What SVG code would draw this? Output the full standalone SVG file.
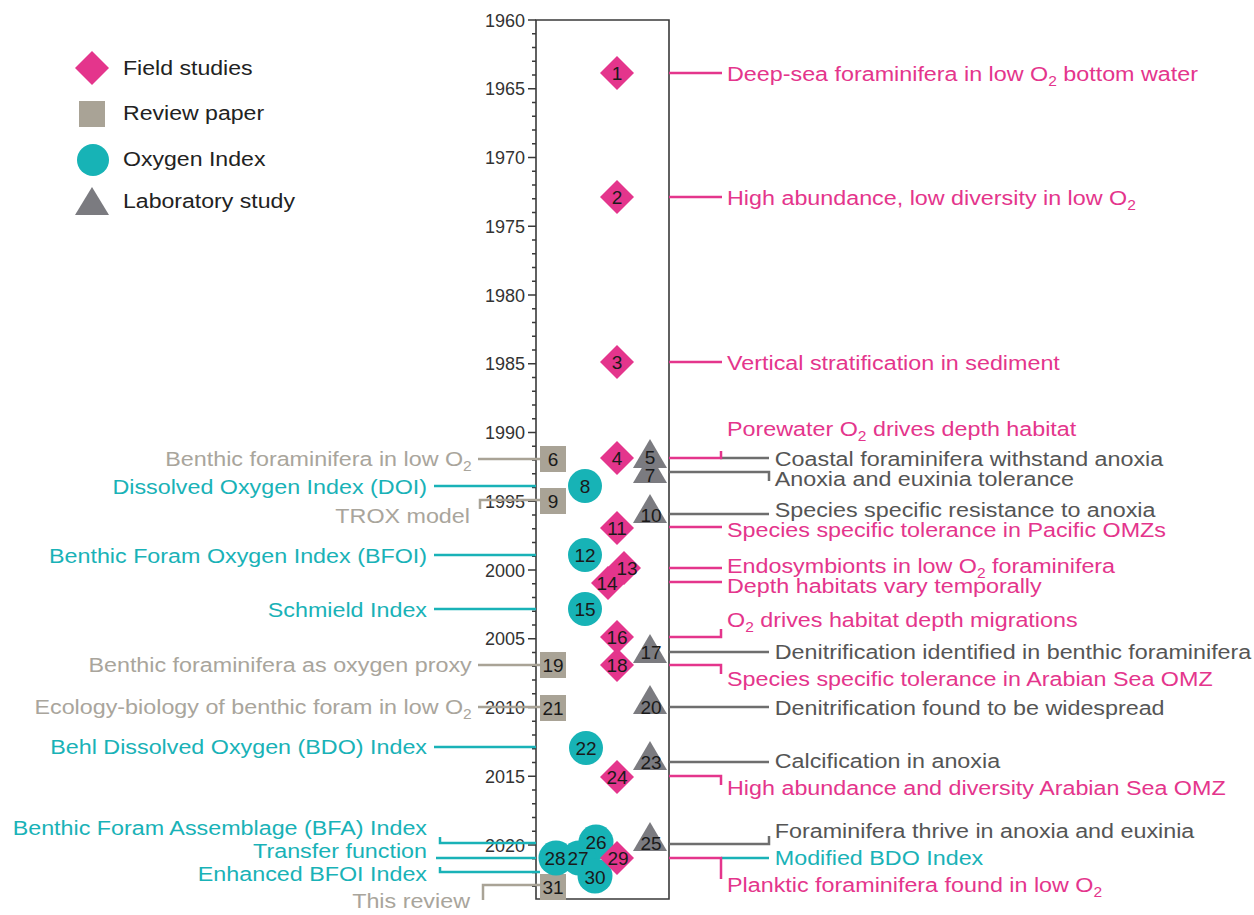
<svg xmlns="http://www.w3.org/2000/svg" width="1254" height="915" viewBox="0 0 1254 915">
<style>
text{font-family:"Liberation Sans",Arial,sans-serif}
.yr{font-size:18px;fill:#333;text-anchor:end}
.lab{font-size:21px}
.sub{font-size:14px}
.pk{fill:#E4358C}
.gy{fill:#555}
.tl{fill:#19B2B7}
.bg{fill:#A9A59C}
.num{font-size:19px;fill:#1a1a1a;text-anchor:middle}
.lg{font-size:21px;fill:#222}
.dia{fill:#E4358C}
.sq{fill:#A9A396}
.ci{fill:#17B3B6}
.tri{fill:#7B7B80}
.c-pk{stroke:#E4358C;stroke-width:2.5;fill:none}
.c-gy{stroke:#6e6e6e;stroke-width:2.5;fill:none}
.c-tl{stroke:#19B2B7;stroke-width:2.5;fill:none}
.c-bg{stroke:#A9A396;stroke-width:2.5;fill:none}
.ax{stroke:#3a3a3a;stroke-width:1.6;fill:none}
</style>
<defs>
<path id="d" d="M0,-17 L17,0 L0,17 L-17,0 Z"/>
<path id="t" d="M0,-16 L17,13 L-17,13 Z"/>
<rect id="s" x="-13" y="-13" width="26" height="26"/>
</defs>
<rect width="1254" height="915" fill="#fff"/>

<g id="legend">
<use href="#d" x="92" y="68" class="dia"/>
<use href="#s" x="92" y="114" class="sq"/>
<circle cx="93" cy="160" r="16" class="ci"/>
<path d="M92,187 L109,215 L75,215 Z" class="tri"/>
<g transform="scale(1.1,1)">
<text class="lg" x="111.8" y="75">Field studies</text>
<text class="lg" x="111.8" y="120">Review paper</text>
<text class="lg" x="111.8" y="166">Oxygen Index</text>
<text class="lg" x="111.8" y="208">Laboratory study</text>
</g>
</g>

<g id="axis">
<path class="ax" d="M669,20 H536 V899 H669 Z"/>
<path class="ax" d="M528,20H536M532,33.75H536M532,47.5H536M532,61.25H536M532,75H536M528,88.75H536M532,102.5H536M532,116.25H536M532,130H536M532,143.75H536M528,157.5H536M532,171.25H536M532,185H536M532,198.75H536M532,212.5H536M528,226.25H536M532,240H536M532,253.75H536M532,267.5H536M532,281.25H536M528,295H536M532,308.75H536M532,322.5H536M532,336.25H536M532,350H536M528,363.75H536M532,377.5H536M532,391.25H536M532,405H536M532,418.75H536M528,432.5H536M532,446.25H536M532,460H536M532,473.75H536M532,487.5H536M528,501.25H536M532,515H536M532,528.75H536M532,542.5H536M532,556.25H536M528,570H536M532,583.75H536M532,597.5H536M532,611.25H536M532,625H536M528,638.75H536M532,652.5H536M532,666.25H536M532,680H536M532,693.75H536M528,707.5H536M532,721.25H536M532,735H536M532,748.75H536M532,762.5H536M528,776.25H536M532,790H536M532,803.75H536M532,817.5H536M532,831.25H536M528,845H536M532,858.75H536M532,872.5H536M532,886.25H536"/>
<text class="yr" x="525" y="26.5">1960</text>
<text class="yr" x="525" y="95.25">1965</text>
<text class="yr" x="525" y="164">1970</text>
<text class="yr" x="525" y="232.75">1975</text>
<text class="yr" x="525" y="301.5">1980</text>
<text class="yr" x="525" y="370.25">1985</text>
<text class="yr" x="525" y="439">1990</text>
<text class="yr" x="525" y="507.75">1995</text>
<text class="yr" x="525" y="576.5">2000</text>
<text class="yr" x="525" y="645.25">2005</text>
<text class="yr" x="525" y="714">2010</text>
<text class="yr" x="525" y="782.75">2015</text>
<text class="yr" x="525" y="851.5">2020</text>
</g>

<g id="connectors">
<path class="c-pk" d="M669,73H722"/>
<path class="c-pk" d="M669,197H722"/>
<path class="c-pk" d="M669,362H722"/>
<path class="c-gy" d="M720,458H769"/>
<path class="c-pk" d="M669,458H721V451"/>
<path class="c-gy" d="M669,472H769V481"/>
<path class="c-gy" d="M669,514H769"/>
<path class="c-pk" d="M669,527H722"/>
<path class="c-pk" d="M669,568H722"/>
<path class="c-pk" d="M669,582H722"/>
<path class="c-pk" d="M669,637H721V629"/>
<path class="c-gy" d="M669,652H769"/>
<path class="c-pk" d="M669,665H721V674"/>
<path class="c-gy" d="M669,707H769"/>
<path class="c-gy" d="M669,762H769"/>
<path class="c-pk" d="M669,776H721V785"/>
<path class="c-gy" d="M669,844H769V836"/>
<path class="c-tl" d="M721,858H769"/>
<path class="c-pk" d="M669,858H721V879"/>

<path class="c-bg" d="M478,459H540"/>
<path class="c-tl" d="M434,486H536"/>
<path class="c-bg" d="M480,509V500H540"/>
<path class="c-tl" d="M434,555H536"/>
<path class="c-tl" d="M434,609H536"/>
<path class="c-bg" d="M478,665H540"/>
<path class="c-bg" d="M478,707H540"/>
<path class="c-tl" d="M434,747H536"/>
<path class="c-tl" d="M440,837V843H536"/>
<path class="c-tl" d="M436,858H536"/>
<path class="c-tl" d="M440,867V872H540"/>
<path class="c-bg" d="M483,900V885H540"/>
</g>

<g id="n6"><use href="#s" x="553" y="459" class="sq"/><text class="num" x="553" y="466">6</text></g>
<g id="n9"><use href="#s" x="553" y="501" class="sq"/><text class="num" x="553" y="508">9</text></g>
<g id="n19"><use href="#s" x="553" y="665" class="sq"/><text class="num" x="553" y="672">19</text></g>
<g id="n21"><use href="#s" x="553" y="708" class="sq"/><text class="num" x="553" y="715">21</text></g>
<g id="n31"><use href="#s" x="553" y="887" class="sq"/><text class="num" x="553" y="894">31</text></g>

<g id="n8"><circle cx="585" cy="486" r="17" class="ci"/><text class="num" x="585" y="493">8</text></g>
<g id="n12"><circle cx="585" cy="555" r="17" class="ci"/><text class="num" x="585" y="562">12</text></g>
<g id="n15"><circle cx="585" cy="609" r="17" class="ci"/><text class="num" x="585" y="616">15</text></g>
<g id="n22"><circle cx="586" cy="748" r="17" class="ci"/><text class="num" x="586" y="755">22</text></g>

<g id="blob">
<circle cx="596" cy="842" r="17.5" class="ci"/>
<circle cx="556" cy="858" r="17.5" class="ci"/>
<circle cx="579" cy="858" r="17.5" class="ci"/>
<circle cx="595" cy="876" r="17.5" class="ci"/>
</g>
<g id="n29"><use href="#d" x="617" y="858" class="dia"/><text class="num" x="618" y="865">29</text></g>
<g id="n26"><text class="num" x="596" y="849">26</text></g>
<g id="n28"><text class="num" x="555" y="865">28</text></g>
<g id="n27"><text class="num" x="578" y="865">27</text></g>
<g id="n30"><text class="num" x="595" y="884">30</text></g>

<g id="n1"><use href="#d" x="617" y="73" class="dia"/><text class="num" x="617" y="80">1</text></g>
<g id="n2"><use href="#d" x="617" y="197" class="dia"/><text class="num" x="617" y="204">2</text></g>
<g id="n3"><use href="#d" x="617" y="362" class="dia"/><text class="num" x="617" y="369">3</text></g>
<g id="n4"><use href="#d" x="617" y="458" class="dia"/><text class="num" x="617" y="465">4</text></g>
<g id="n11"><use href="#d" x="617" y="528" class="dia"/><text class="num" x="617" y="535">11</text></g>
<g id="n13"><use href="#d" x="624" y="568" class="dia"/><text class="num" x="627" y="575">13</text></g>
<g id="n14"><use href="#d" x="608" y="583" class="dia"/><text class="num" x="607" y="590">14</text></g>
<g id="n16"><use href="#d" x="617" y="637" class="dia"/><text class="num" x="617" y="644">16</text></g>
<g id="n18"><use href="#d" x="617" y="665" class="dia"/><text class="num" x="617" y="672">18</text></g>
<g id="n24"><use href="#d" x="617" y="777" class="dia"/><text class="num" x="617" y="784">24</text></g>

<g id="n5"><use href="#t" x="650" y="455" class="tri"/></g>
<g id="n7"><use href="#t" x="650" y="470" class="tri"/><text class="num" x="650" y="482">7</text></g>
<text class="num" x="650" y="464">5</text>
<g id="n10"><use href="#t" x="650" y="510" class="tri"/><text class="num" x="651" y="522">10</text></g>
<g id="n17"><use href="#t" x="650" y="650" class="tri"/><text class="num" x="651" y="659">17</text></g>
<g id="n20"><use href="#t" x="650" y="701" class="tri"/><text class="num" x="651" y="714">20</text></g>
<g id="n23"><use href="#t" x="650" y="757" class="tri"/><text class="num" x="651" y="769">23</text></g>
<g id="n25"><use href="#t" x="650" y="838" class="tri"/><text class="num" x="651" y="850">25</text></g>

<g id="labels-right" transform="scale(1.11,1)">
<text class="lab pk" x="655" y="81">Deep-sea foraminifera in low O<tspan class="sub" dy="5">2</tspan><tspan dy="-5"> bottom water</tspan></text>
<text class="lab pk" x="655" y="205">High abundance, low diversity in low O<tspan class="sub" dy="5">2</tspan></text>
<text class="lab pk" x="655" y="370">Vertical stratification in sediment</text>
<text class="lab pk" x="655" y="436">Porewater O<tspan class="sub" dy="5">2</tspan><tspan dy="-5"> drives depth habitat</tspan></text>
<text class="lab gy" x="698" y="466">Coastal foraminifera withstand anoxia</text>
<text class="lab gy" x="698" y="486">Anoxia and euxinia tolerance</text>
<text class="lab gy" x="698" y="517">Species specific resistance to anoxia</text>
<text class="lab pk" x="655" y="537">Species specific tolerance in Pacific OMZs</text>
<text class="lab pk" x="655" y="573">Endosymbionts in low O<tspan class="sub" dy="5">2</tspan><tspan dy="-5"> foraminifera</tspan></text>
<text class="lab pk" x="655" y="593">Depth habitats vary temporally</text>
<text class="lab pk" x="655" y="627">O<tspan class="sub" dy="5">2</tspan><tspan dy="-5"> drives habitat depth migrations</tspan></text>
<text class="lab gy" x="698" y="659">Denitrification identified in benthic foraminifera</text>
<text class="lab pk" x="655" y="686">Species specific tolerance in Arabian Sea OMZ</text>
<text class="lab gy" x="698" y="715">Denitrification found to be widespread</text>
<text class="lab gy" x="698" y="768">Calcification in anoxia</text>
<text class="lab pk" x="655" y="795">High abundance and diversity Arabian Sea OMZ</text>
<text class="lab gy" x="698" y="838">Foraminifera thrive in anoxia and euxinia</text>
<text class="lab tl" x="698" y="865">Modified BDO Index</text>
<text class="lab pk" x="655" y="892">Planktic foraminifera found in low O<tspan class="sub" dy="5">2</tspan></text>
</g>

<g id="labels-left" text-anchor="end" transform="scale(1.11,1)">
<text class="lab bg" x="425" y="466">Benthic foraminifera in low O<tspan class="sub" dy="5">2</tspan></text>
<text class="lab tl" x="384.7" y="494">Dissolved Oxygen Index (DOI)</text>
<text class="lab bg" x="423.4" y="523">TROX model</text>
<text class="lab tl" x="384.7" y="563">Benthic Foram Oxygen Index (BFOI)</text>
<text class="lab tl" x="384.7" y="617">Schmield Index</text>
<text class="lab bg" x="425" y="672">Benthic foraminifera as oxygen proxy</text>
<text class="lab bg" x="425" y="714">Ecology-biology of benthic foram in low O<tspan class="sub" dy="5">2</tspan></text>
<text class="lab tl" x="384.7" y="754">Behl Dissolved Oxygen (BDO) Index</text>
<text class="lab tl" x="384.7" y="835">Benthic Foram Assemblage (BFA) Index</text>
<text class="lab tl" x="384.7" y="858">Transfer function</text>
<text class="lab tl" x="384.7" y="881">Enhanced BFOI Index</text>
<text class="lab bg" x="423.4" y="908">This review</text>
</g>
</svg>
